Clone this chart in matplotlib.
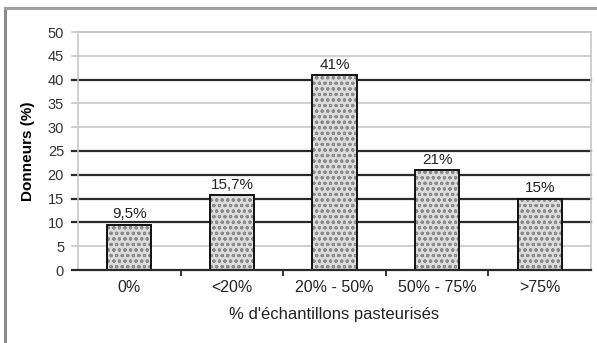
import matplotlib
matplotlib.use("Agg")
import matplotlib.pyplot as plt
from matplotlib.lines import Line2D

plt.rcParams['font.family'] = ['Liberation Sans', 'DejaVu Sans']
plt.rcParams['hatch.linewidth'] = 0.8

categories = ["0%", "<20%", "20% - 50%", "50% - 75%", ">75%"]
donneurs = [9.5, 15.7, 41, 21, 15]
value_labels = ["9,5%", "15,7%", "41%", "21%", "15%"]
y_ticks = [0, 5, 10, 15, 20, 25, 30, 35, 40, 45, 50]
dark_grid = [10, 15, 20, 25, 40]

W, H = 597, 343
fig = plt.figure(figsize=(W / 100, H / 100), dpi=100)
ax = fig.add_axes([78 / W, 1 - 270 / H, (591 - 78) / W, (270 - 32) / H])

x = list(range(len(categories)))
ax.set_xlim(-0.5, len(categories) - 0.5)
ax.set_ylim(0, 50)

# horizontal gridlines, some heavier, extending slightly left of the plot area
ext = -6 / (591 - 78)
for v in y_ticks:
    if v == 0:
        continue
    if v in dark_grid:
        ax.axhline(v, xmin=ext, xmax=1, color='#2a2a2a', lw=1.6, zorder=1, clip_on=False)
    else:
        ax.axhline(v, xmin=ext, xmax=1, color='#c8c8c8', lw=1.2, zorder=1, clip_on=False)
ax.axhline(0, xmin=ext, xmax=1, color='#2a2a2a', lw=1.6, zorder=4, clip_on=False)

# patterned bars with a dark outline
ax.bar(x, donneurs, width=0.43, color='#dcdcdc', edgecolor='#8a8a8a',
       hatch='ooo', lw=0, zorder=2)
ax.bar(x, donneurs, width=0.43, fill=False, edgecolor='#111111', lw=1.4, zorder=3)

for xi, v, lab in zip(x, donneurs, value_labels):
    ax.text(xi, v + 0.7, lab, ha='center', va='bottom', fontsize=11,
            color='#222222', zorder=5)

ax.set_yticks(y_ticks)
ax.set_yticklabels([str(t) for t in y_ticks], fontsize=10.5, color='#333333')
ax.tick_params(axis='y', length=0, pad=10)

ax.set_xticks(x)
ax.set_xticklabels(categories, fontsize=11.5, color='#222222')
ax.tick_params(axis='x', which='major', length=0, pad=7)
ax.set_xticks([i + 0.5 for i in x[:-1]], minor=True)
ax.tick_params(axis='x', which='minor', length=4, width=1.2, color='#111111', direction='out')

for s in ('left', 'top', 'right'):
    ax.spines[s].set_color('#c8c8c8')
    ax.spines[s].set_linewidth(1.2)
ax.spines['bottom'].set_visible(False)

ax.set_ylabel("Donneurs (%)", fontsize=11, fontweight='bold', labelpad=9)
ax.set_xlabel("% d'échantillons pasteurisés", fontsize=12, labelpad=9, color='#222222')

# chart frame
fig.add_artist(Line2D([5 / W, 5 / W], [0, 1 - 8 / H], color='#8a8a8a', lw=2.2))
fig.add_artist(Line2D([5 / W, 1], [1 - 8 / H, 1 - 8 / H], color='#a0a0a0', lw=2.2))

fig.savefig("out.png", dpi=100)
